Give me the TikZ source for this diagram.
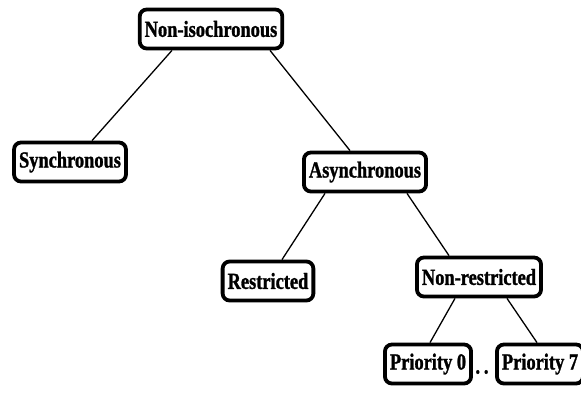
\documentclass[tikz,border=0pt]{standalone}
\usepackage{fontspec}
\newfontfamily\lblfont[FakeStretch=0.8,FakeBold=1.2]{Liberation Serif}
\tikzset{
  lbltext/.style={font=\lblfont\bfseries\fontsize{23}{25}\selectfont},
  cls/.style={draw, line width=3.8pt, rounded corners=7pt, fill=white, lbltext,
    inner xsep=5pt, inner ysep=0pt, minimum height=39pt},
  link/.style={line width=1.3pt}
}
\begin{document}
\begin{tikzpicture}[x=1pt,y=-1pt]
\useasboundingbox (0,0) rectangle (581,394);

\node[cls] (ni)   at (211,29)  {Non-isochronous};
\node[cls] (sync) at (70,162)  {Synchronous};
\node[cls] (async) at (365,172) {Asynchronous};
\node[cls] (res)  at (268,281) {Restricted};
\node[cls] (nres) at (479,277) {Non-restricted};
\node[cls] (p0)   at (428,364) {Priority 0};
\node[cls] (p7)   at (540,364) {Priority 7};
\node[lbltext, inner sep=0pt] (dots) at (482,372) {.\,.};

\draw[link] ([xshift=-39pt]ni.south) -- ([xshift=22pt]sync.north);
\draw[link] ([xshift=59pt]ni.south) -- ([xshift=-15pt]async.north);
\draw[link] ([xshift=-40pt]async.south) -- ([xshift=14pt]res.north);
\draw[link] ([xshift=42pt]async.south) -- ([xshift=-30pt]nres.north);
\draw[link] ([xshift=-24pt]nres.south) -- ([xshift=2pt]p0.north);
\draw[link] ([xshift=28pt]nres.south) -- ([xshift=-3pt]p7.north);
\end{tikzpicture}
\end{document}
